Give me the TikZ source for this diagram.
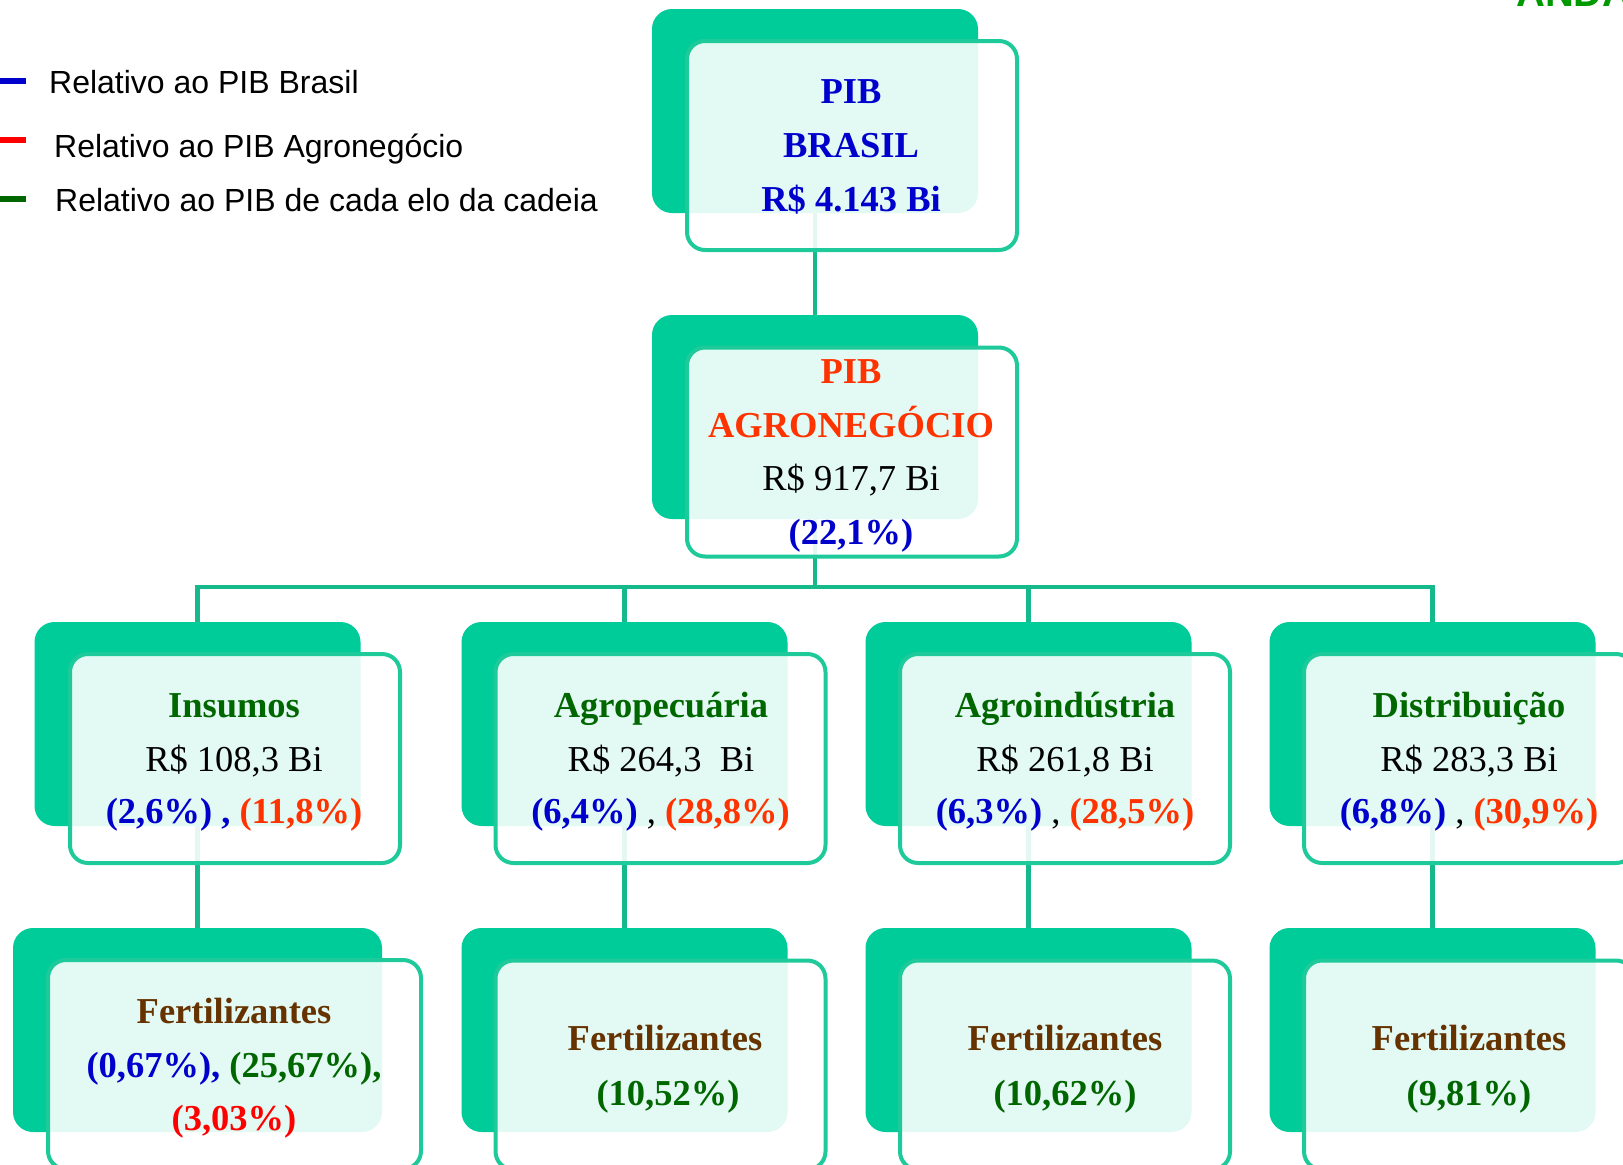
\documentclass[tikz,border=0pt]{standalone}
\usepackage{fontspec}
\setmainfont{Liberation Serif}
\newfontfamily\legendfont{Liberation Sans}
\definecolor{backg}{RGB}{0,204,153}
\definecolor{frontg}{RGB}{30,202,154}
\definecolor{lineg}{RGB}{22,185,140}
\definecolor{tblue}{RGB}{0,0,204}
\definecolor{tred}{RGB}{255,51,0}
\definecolor{pred}{RGB}{255,0,0}
\definecolor{tgreen}{RGB}{0,102,0}
\definecolor{tbrown}{RGB}{102,51,0}
\definecolor{logog}{RGB}{0,153,0}
\pgfdeclarelayer{bg}
\pgfsetlayers{bg,main}
\tikzset{
  backbox/.style={rectangle, rounded corners=20pt, fill=backg, inner sep=0pt, minimum width=326pt, minimum height=204pt},
  frontbox/.style={rectangle, rounded corners=18pt, draw=frontg, line width=4pt, fill=white, fill opacity=0.89, inner sep=0pt, minimum width=330pt, minimum height=209pt},
  conn/.style={draw=lineg, line width=4.5pt},
  txt/.style={anchor=base, inner sep=0pt, font=\fontsize{36.5}{40}\selectfont},
  btxt/.style={anchor=base, inner sep=0pt, font=\fontsize{36.5}{40}\selectfont\bfseries},
  legtxt/.style={anchor=base west, inner sep=0pt, font=\legendfont\fontsize{32}{36}\selectfont},
  legmark/.style={line width=6pt}
}
\begin{document}
\begin{tikzpicture}[x=1pt,y=-1pt]
\useasboundingbox (0,0) rectangle (1623,1165);

% back boxes
\node[backbox] (b1) at (815,111) {};
\node[backbox] (b2) at (815,417) {};
\node[backbox] (c1) at (197.5,724) {};
\node[backbox] (c2) at (624.5,724) {};
\node[backbox] (c3) at (1028.5,724) {};
\node[backbox] (c4) at (1432.5,724) {};
\node[backbox, minimum width=369pt] (d1) at (197.5,1030) {};
\node[backbox] (d2) at (624.5,1030) {};
\node[backbox] (d3) at (1028.5,1030) {};
\node[backbox] (d4) at (1432.5,1030) {};

% connectors
\coordinate (bus) at (0,587);
\begin{pgfonlayer}{bg}
\draw[conn] (b1.center) -- (b2.center);
\draw[conn] (b2.center) -- (b2.center |- bus);
\draw[conn] (c1.center) -- (c1.center |- bus) -- (c4.center |- bus) -- (c4.center);
\draw[conn] (c2.center) -- (c2.center |- bus);
\draw[conn] (c3.center) -- (c3.center |- bus);
\draw[conn] (c1.center) -- (d1.center);
\draw[conn] (c2.center) -- (d2.center);
\draw[conn] (c3.center) -- (d3.center);
\draw[conn] (c4.center) -- (d4.center);
\end{pgfonlayer}

% front boxes
\node[frontbox] (f1) at (852,145.5) {};
\node[frontbox] (f2) at (852,452) {};
\node[frontbox] (g1) at (235,758.5) {};
\node[frontbox] (g2) at (660.5,758.5) {};
\node[frontbox] (g3) at (1065,758.5) {};
\node[frontbox] (g4) at (1469,758.5) {};
\node[frontbox, minimum width=373pt] (h1) at (234.5,1064.5) {};
\node[frontbox] (h2) at (660.5,1065) {};
\node[frontbox] (h3) at (1065,1065) {};
\node[frontbox] (h4) at (1469,1065) {};

% top text
\node[btxt, text=tblue] (t1a) at (851,103) {PIB};
\node[btxt, text=tblue] (t1b) at (851,157) {BRASIL};
\node[btxt, text=tblue] (t1c) at (851,211) {R\$ 4.143 Bi};

% agro text
\node[btxt, text=tred] (t2a) at (851,383) {PIB};
\node[btxt, text=tred] (t2b) at (851,437) {AGRONEGÓCIO};
\node[txt] (t2c) at (851,490) {R\$ 917,7 Bi};
\node[btxt, text=tblue] (t2d) at (851,544) {(22,1\%)};

% level 3
\node[btxt, text=tgreen] (t3a) at (234,717) {Insumos};
\node[txt] (t3b) at (234,771) {R\$ 108,3 Bi};
\node[btxt] (t3c) at (234,823) {\textcolor{tblue}{(2,6\%) ,} \textcolor{tred}{(11,8\%)}};

\node[btxt, text=tgreen] (t4a) at (661,717) {Agropecuária};
\node[txt] (t4b) at (661,771) {R\$ 264,3\ \ Bi};
\node[txt] (t4c) at (660.5,823) {\textbf{\textcolor{tblue}{(6,4\%)}} , \textbf{\textcolor{tred}{(28,8\%)}}};

\node[btxt, text=tgreen] (t5a) at (1065,717) {Agroindústria};
\node[txt] (t5b) at (1065,771) {R\$ 261,8 Bi};
\node[txt] (t5c) at (1065,823) {\textbf{\textcolor{tblue}{(6,3\%)}} , \textbf{\textcolor{tred}{(28,5\%)}}};

\node[btxt, text=tgreen] (t6a) at (1469,717) {Distribuição};
\node[txt] (t6b) at (1469,771) {R\$ 283,3 Bi};
\node[txt] (t6c) at (1469,823) {\textbf{\textcolor{tblue}{(6,8\%)}} , \textbf{\textcolor{tred}{(30,9\%)}}};

% level 4
\node[btxt, text=tbrown] (t7a) at (234,1023) {Fertilizantes};
\node[btxt] (t7b) at (234,1077) {\textcolor{tblue}{(0,67\%),} \textcolor{tgreen}{(25,67\%),}};
\node[btxt, text=pred] (t7c) at (234,1130) {(3,03\%)};

\node[btxt, text=tbrown] (t8a) at (665,1050) {Fertilizantes};
\node[btxt, text=tgreen] (t8b) at (668,1105) {(10,52\%)};
\node[btxt, text=tbrown] (t9a) at (1065,1050) {Fertilizantes};
\node[btxt, text=tgreen] (t9b) at (1065,1105) {(10,62\%)};
\node[btxt, text=tbrown] (t10a) at (1469,1050) {Fertilizantes};
\node[btxt, text=tgreen] (t10b) at (1469,1105) {(9,81\%)};

% legend
\draw[legmark, tblue] (0,81) -- (26,81);
\draw[legmark, pred] (0,140) -- (26,140);
\draw[legmark, tgreen] (0,199) -- (26,199);
\node[legtxt] (l1) at (49,93) {Relativo ao PIB Brasil};
\node[legtxt] (l2) at (54,157) {Relativo ao PIB Agronegócio};
\node[legtxt] (l3) at (55,211) {Relativo ao PIB de cada elo da cadeia};

% partial logo text at top right
\node[anchor=base west, inner sep=0pt, font=\legendfont\bfseries\fontsize{40}{40}\selectfont, text=logog] (logo) at (1516,6) {ANDA};
\end{tikzpicture}
\end{document}
